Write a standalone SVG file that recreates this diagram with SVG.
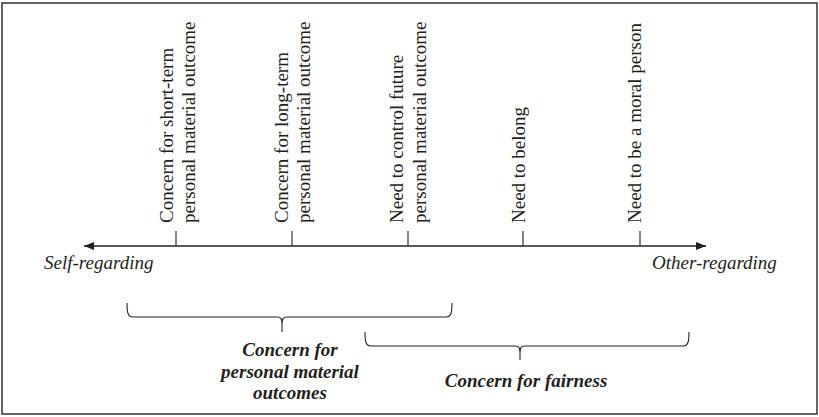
<svg xmlns="http://www.w3.org/2000/svg" width="819" height="417" viewBox="0 0 819 417">
  <style>
    .frame { fill: #ffffff; stroke: #333333; stroke-width: 1.5; }
    .axis { stroke: #231f20; stroke-width: 1.5; fill: none; }
    .tick { stroke: #231f20; stroke-width: 1.1; fill: none; }
    .brace { stroke: #231f20; stroke-width: 1.1; fill: none; }
    .lbl { font-family: "Liberation Serif", "Times New Roman", serif; font-size: 19px; fill: #231f20; }
    .end { font-family: "Liberation Serif", "Times New Roman", serif; font-size: 19px; font-style: italic; fill: #231f20; }
    .grp { font-family: "Liberation Serif", "Times New Roman", serif; font-size: 19px; font-style: italic; font-weight: bold; fill: #231f20; text-anchor: middle; }
  </style>
  <defs>
    <marker id="arrow" viewBox="0 0 10 8" refX="10" refY="4" markerWidth="10" markerHeight="8" markerUnits="userSpaceOnUse" orient="auto-start-reverse">
      <path d="M0,0 L10,4 L0,8 z" fill="#231f20"/>
    </marker>
  </defs>

  <rect id="frame" class="frame" x="2" y="3" width="815" height="411"/>

  <g id="connectors">
    <line class="axis" x1="84" y1="246" x2="706" y2="246" marker-start="url(#arrow)" marker-end="url(#arrow)"/>
    <line class="tick" x1="176" y1="231" x2="176" y2="246"/>
    <line class="tick" x1="292" y1="231" x2="292" y2="246"/>
    <line class="tick" x1="408" y1="231" x2="408" y2="246"/>
    <line class="tick" x1="523" y1="231" x2="523" y2="246"/>
    <line class="tick" x1="640" y1="231" x2="640" y2="246"/>
    <path class="brace" d="M127,303 C127,313 128,317 133,317 L277,317 C281,317 282,319 282,324 L282,332 M282,324 C282,319 283,317 287,317 L446,317 C451,317 452,313 452,303"/>
    <path class="brace" d="M365,332 C365,342 366,346 371,346 L515,346 C519,346 520,348 520,353 L520,360 M520,353 C520,348 521,346 525,346 L683,346 C688,346 689,342 689,332"/>
  </g>

  <g id="node-self-regarding">
    <text class="end" x="44" y="269">Self-regarding</text>
  </g>
  <g id="node-other-regarding">
    <text class="end" x="652" y="269">Other-regarding</text>
  </g>

  <g id="node-short-term">
    <text class="lbl" transform="translate(173,223) rotate(-90)">Concern for short-term</text>
    <text class="lbl" transform="translate(195,223) rotate(-90)">personal material outcome</text>
  </g>
  <g id="node-long-term">
    <text class="lbl" transform="translate(288,223) rotate(-90)">Concern for long-term</text>
    <text class="lbl" transform="translate(310,223) rotate(-90)">personal material outcome</text>
  </g>
  <g id="node-control-future">
    <text class="lbl" transform="translate(403,223) rotate(-90)">Need to control future</text>
    <text class="lbl" transform="translate(426,223) rotate(-90)">personal material outcome</text>
  </g>
  <g id="node-belong">
    <text class="lbl" transform="translate(525,223) rotate(-90)">Need to belong</text>
  </g>
  <g id="node-moral">
    <text class="lbl" transform="translate(641,223) rotate(-90)">Need to be a moral person</text>
  </g>

  <g id="group-material">
    <text class="grp" x="290" y="356">Concern for</text>
    <text class="grp" x="290" y="378">personal material</text>
    <text class="grp" x="290" y="399">outcomes</text>
  </g>
  <g id="group-fairness">
    <text class="grp" x="526" y="387">Concern for fairness</text>
  </g>
</svg>
